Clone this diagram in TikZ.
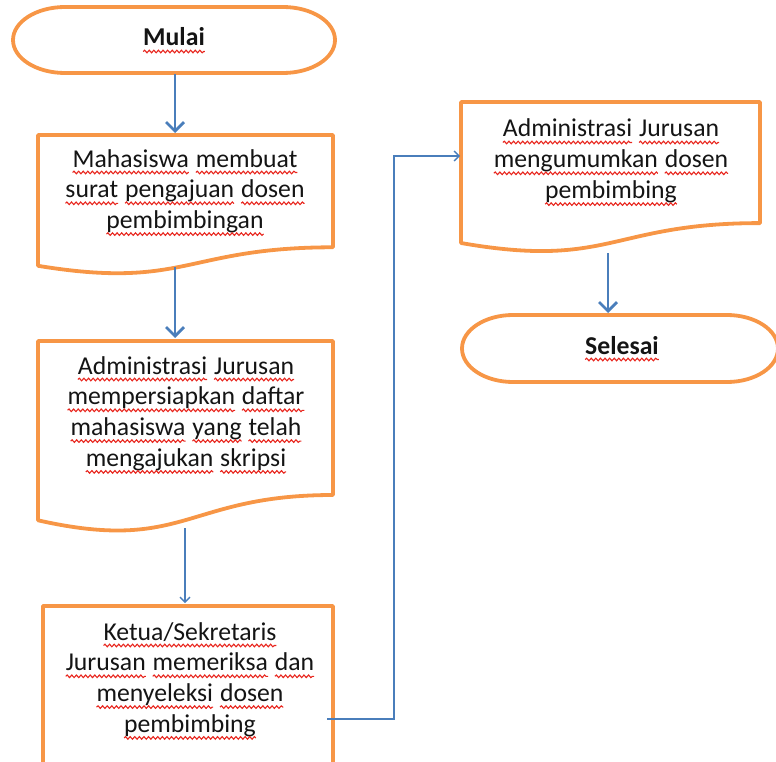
\documentclass[tikz,border=0pt]{standalone}
\usepackage{fontspec}
\setmainfont{Carlito}
\usetikzlibrary{arrows.meta,decorations.pathmorphing}
\definecolor{fcor}{HTML}{F79646}
\definecolor{fcbl}{HTML}{4A7EBB}
\definecolor{sqred}{HTML}{E8261E}
\definecolor{txtc}{HTML}{141414}
\tikzset{
  shapeline/.style={draw=fcor, line width=3.8pt, line join=round},
  thickarrow/.style={draw=fcbl, line width=2.8pt, -{Straight Barb[length=9pt,width=18pt]}},
  thinarrow/.style={draw=fcbl, line width=1.3pt, -{Straight Barb[length=5pt,width=10pt]}},
  wavy/.style={draw=sqred, line width=1.1pt, decorate, decoration={snake, amplitude=1.3pt, segment length=4.6pt}},
  txt/.style={anchor=base, align=center, text=txtc, inner sep=0pt, font=\fontsize{25.7}{30.8}\selectfont},
}
\newcommand\wv[1]{\tikz[baseline=(wq.base)]{\node[inner sep=0pt,outer sep=0pt,anchor=base,draw=none,fill=none,text=txtc](wq) at (0,0){#1};\draw[wavy]([yshift=-5.5pt]wq.base west)--([yshift=-5.5pt]wq.base east);}}
\begin{document}
\begin{tikzpicture}[x=1pt,y=-1pt]
\clip (0,0) rectangle (776,762);
% shapes
\draw[shapeline] (65,7) -- (283,7) arc[start angle=-90,end angle=90,x radius=52,y radius=33] -- (65,73) arc[start angle=90,end angle=270,x radius=52,y radius=33] -- cycle;
\draw[shapeline] (38,135) -- (333,135) -- (333,247.3) .. controls (185.5,247.3) and (185.5,290) .. (38,265.8) -- cycle;
\draw[shapeline] (38,341) -- (333,341) -- (333,495) .. controls (185.5,495) and (185.5,553.5) .. (38,520.3) -- cycle;
\draw[shapeline] (43,606) rectangle (333,790);
\draw[shapeline] (461,102) -- (760,102) -- (760,223.1) .. controls (610.5,223.1) and (610.5,269.2) .. (461,243) -- cycle;
\draw[shapeline] (513,315) -- (727,315) arc[start angle=-90,end angle=90,x radius=51,y radius=33.5] -- (513,382) arc[start angle=90,end angle=270,x radius=51,y radius=33.5] -- cycle;
% texts (anchor = baseline of last line)
\node[txt,font=\fontsize{25.7}{30.8}\selectfont\bfseries] (t0) at (174,46) {\wv{Mulai}};
\node[txt] (t1) at (185,228.6) {\wv{Mahasiswa} \wv{membuat}\\\wv{surat} \wv{pengajuan} \wv{dosen}\\\wv{pembimbingan}};
\node[txt] (t2) at (186,466.4) {\wv{Administrasi} \wv{Jurusan}\\\wv{mempersiapkan} \wv{daftar}\\\wv{mahasiswa} \wv{yang} \wv{telah}\\\wv{mengajukan} \wv{skripsi}};
\node[txt] (t3) at (190,732.4) {\wv{Ketua/Sekretaris}\\\wv{Jurusan} \wv{memeriksa} \wv{dan}\\\wv{menyeleksi} \wv{dosen}\\\wv{pembimbing}};
\node[txt] (t4) at (611,198.6) {\wv{Administrasi} \wv{Jurusan}\\\wv{mengumumkan} \wv{dosen}\\\wv{pembimbing}};
\node[txt,font=\fontsize{25.7}{30.8}\selectfont\bfseries] (t5) at (622,354) {\wv{Selesai}};
% connector points
\coordinate (mulaiB) at (175,74);
\coordinate (d1T) at (175,133);
\coordinate (d1B) at (175,267);
\coordinate (d2T) at (175,338);
\coordinate (d2B) at (185,528);
\coordinate (b3T) at (185,603);
\coordinate (b3R) at (327,719);
\coordinate (d4L) at (460,156);
\coordinate (d4B) at (608,253);
\coordinate (selT) at (608,313);
% connectors
\draw[thickarrow] (mulaiB) -- (d1T);
\draw[thickarrow] (d1B) -- (d2T);
\draw[thinarrow] (d2B) -- (b3T);
\draw[thinarrow] (b3R) -- ++(67,0) |- (d4L);
\draw[thickarrow] (d4B) -- (selT);
\end{tikzpicture}
\end{document}
